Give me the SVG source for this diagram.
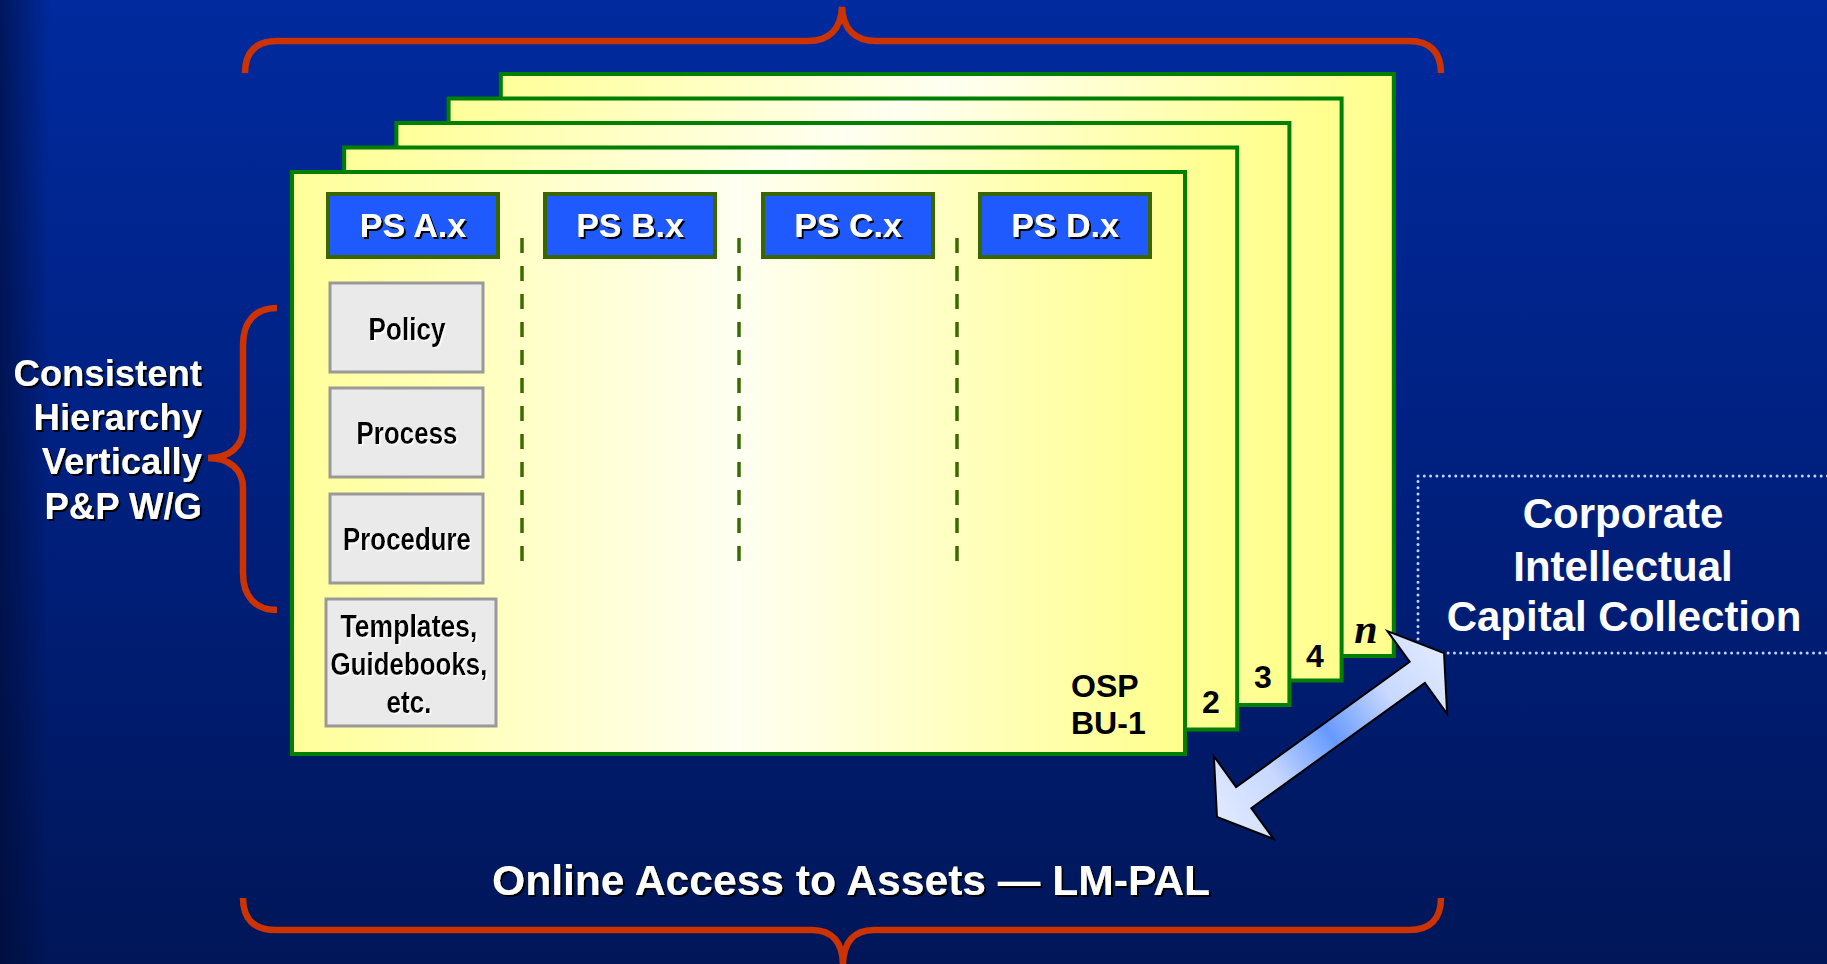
<svg xmlns="http://www.w3.org/2000/svg" width="1827" height="964" viewBox="0 0 1827 964">
<defs>
<linearGradient id="bg" x1="0" y1="0" x2="0" y2="1">
<stop offset="0" stop-color="#002A9E"/>
<stop offset="0.5" stop-color="#00207F"/>
<stop offset="1" stop-color="#001658"/>
</linearGradient>
<linearGradient id="edge" x1="0" y1="0" x2="1" y2="0">
<stop offset="0" stop-color="#000A30" stop-opacity="0.6"/>
<stop offset="1" stop-color="#000A30" stop-opacity="0"/>
</linearGradient>
<linearGradient id="card" x1="0" y1="0" x2="1" y2="0">
<stop offset="0" stop-color="#FFFF99"/>
<stop offset="0.5" stop-color="#FFFFF2"/>
<stop offset="1" stop-color="#FFFF8C"/>
</linearGradient>
<linearGradient id="arr" gradientUnits="userSpaceOnUse" x1="-140" y1="0" x2="140" y2="0">
<stop offset="0" stop-color="#E0EAFF"/>
<stop offset="0.25" stop-color="#C8D8FF"/>
<stop offset="0.5" stop-color="#6699FF"/>
<stop offset="0.75" stop-color="#C8D8FF"/>
<stop offset="1" stop-color="#E0EAFF"/>
</linearGradient>
<filter id="sh" x="-5%" y="-10%" width="115%" height="140%">
<feDropShadow dx="2" dy="2" stdDeviation="0.4" flood-color="#000" flood-opacity="1"/>
</filter>
<filter id="wsh" x="-5%" y="-10%" width="115%" height="140%">
<feDropShadow dx="1.5" dy="1.5" stdDeviation="0.3" flood-color="#FFF" flood-opacity="0.9"/>
</filter>
<style>
.brace{fill:none;stroke:#CC3300;stroke-width:6.5;stroke-linecap:butt}
.card{fill:url(#card);stroke:#007F00;stroke-width:4}
.ps{fill:#1E5AFF;stroke:#3A6600;stroke-width:4}
.pst{font-family:"Liberation Sans",Arial,sans-serif;font-weight:bold;font-size:34px;fill:#FFF;text-anchor:middle;filter:url(#sh)}
.gb{fill:#EAEAEA;stroke:#999;stroke-width:3}
.gt{font-family:"Liberation Sans",Arial,sans-serif;font-weight:bold;font-size:31px;fill:#000;text-anchor:middle;filter:url(#wsh)}
.dash{stroke:#3A6A00;stroke-width:3.5;stroke-dasharray:15 13}
.wt{font-family:"Liberation Sans",Arial,sans-serif;font-weight:bold;fill:#FFF;filter:url(#sh)}
.num{font-family:"Liberation Sans",Arial,sans-serif;font-weight:bold;font-size:32px;fill:#000;text-anchor:middle}
</style>
</defs>
<rect x="0" y="0" width="1827" height="964" fill="url(#bg)"/>
<rect x="0" y="0" width="50" height="964" fill="url(#edge)"/>

<g id="top-brace">
<path class="brace" d="M245,73 C245,52 256,41 277,41 L808,41 C828,41 841,30 842,7 C843,30 856,41 876,41 L1409,41 C1430,41 1441,52 1441,73"/>
</g>

<g id="bu-n"><rect class="card" x="500.8" y="74" width="893" height="582"/>
<text x="1366" y="643" font-family="'Liberation Serif','Times New Roman',serif" font-weight="bold" font-style="italic" font-size="42" text-anchor="middle" fill="#000">n</text></g>
<g id="bu-4"><rect class="card" x="448.6" y="98.5" width="893" height="582"/>
<text class="num" x="1315" y="667">4</text></g>
<g id="bu-3"><rect class="card" x="396.4" y="123" width="893" height="582"/>
<text class="num" x="1263" y="688">3</text></g>
<g id="bu-2"><rect class="card" x="344.2" y="147.5" width="893" height="582"/>
<text class="num" x="1211" y="713">2</text></g>
<g id="bu-1"><rect class="card" x="292" y="172" width="893" height="582"/>
<text class="num" x="1071" y="697" style="text-anchor:start" font-size="33">OSP</text>
<text class="num" x="1071" y="734" style="text-anchor:start" font-size="33">BU-1</text></g>

<g id="dividers">
<line class="dash" x1="522" y1="238" x2="522" y2="562"/>
<line class="dash" x1="739" y1="238" x2="739" y2="562"/>
<line class="dash" x1="957" y1="238" x2="957" y2="562"/>
</g>

<g id="ps-a"><rect class="ps" x="328" y="194" width="170" height="63"/><text class="pst" x="413" y="237">PS A.x</text></g>
<g id="ps-b"><rect class="ps" x="545" y="194" width="170" height="63"/><text class="pst" x="630" y="237">PS B.x</text></g>
<g id="ps-c"><rect class="ps" x="763" y="194" width="170" height="63"/><text class="pst" x="848" y="237">PS C.x</text></g>
<g id="ps-d"><rect class="ps" x="980" y="194" width="170" height="63"/><text class="pst" x="1065" y="237">PS D.x</text></g>

<g id="policy"><rect class="gb" x="330" y="283" width="153" height="89"/><text class="gt" x="407" y="340" textLength="77" lengthAdjust="spacingAndGlyphs">Policy</text></g>
<g id="process"><rect class="gb" x="330" y="388" width="153" height="89"/><text class="gt" x="407" y="444" textLength="101" lengthAdjust="spacingAndGlyphs">Process</text></g>
<g id="procedure"><rect class="gb" x="330" y="494" width="153" height="89"/><text class="gt" x="407" y="550" textLength="128" lengthAdjust="spacingAndGlyphs">Procedure</text></g>
<g id="templates"><rect class="gb" x="326" y="599" width="170" height="127"/>
<text class="gt" x="409" y="637" textLength="137" lengthAdjust="spacingAndGlyphs">Templates,</text>
<text class="gt" x="409" y="675" textLength="157" lengthAdjust="spacingAndGlyphs">Guidebooks,</text>
<text class="gt" x="409" y="713" textLength="45" lengthAdjust="spacingAndGlyphs">etc.</text></g>

<g id="hierarchy-label">
<path class="brace" d="M277,308 C255,308 243,322 243,345 L243,428 C243,446 230,458 208,458 C230,458 243,470 243,488 L243,573 C243,596 255,610 277,610"/>
<text class="wt" font-size="36.5" text-anchor="end"><tspan x="202" y="386">Consistent</tspan><tspan x="202" y="430">Hierarchy</tspan><tspan x="202" y="474">Vertically</tspan><tspan x="202" y="519">P&amp;P W/G</tspan></text>
</g>

<g id="corporate-collection">
<rect x="1418" y="476" width="440" height="177" fill="none" stroke="#BCD6FF" stroke-width="3" stroke-dasharray="0 6.3" stroke-linecap="round"/>
<text font-family="'Liberation Sans',Arial,sans-serif" font-weight="bold" font-size="42" fill="#FFF" text-anchor="middle"><tspan x="1623" y="528">Corporate</tspan><tspan x="1623" y="581">Intellectual</tspan><tspan x="1624" y="631">Capital Collection</tspan></text>
</g>

<g id="online-access">
<path class="brace" d="M243,898 C243,919 254,930 275,930 L812,930 C832,930 843,942 843,966 C843,942 854,930 874,930 L1409,930 C1430,930 1441,919 1441,898"/>
<text class="wt" x="851" y="895" font-size="42.6" text-anchor="middle">Online Access to Assets — LM-PAL</text>
</g>

<g id="connectors">
<polygon transform="translate(1330.5,735) rotate(-35.8)" points="140,0 107,-51 107,-13 -107,-13 -107,-51 -140,0 -107,51 -107,13 107,13 107,51" fill="url(#arr)" stroke="#000" stroke-width="2" stroke-linejoin="miter"/>
</g>
</svg>
